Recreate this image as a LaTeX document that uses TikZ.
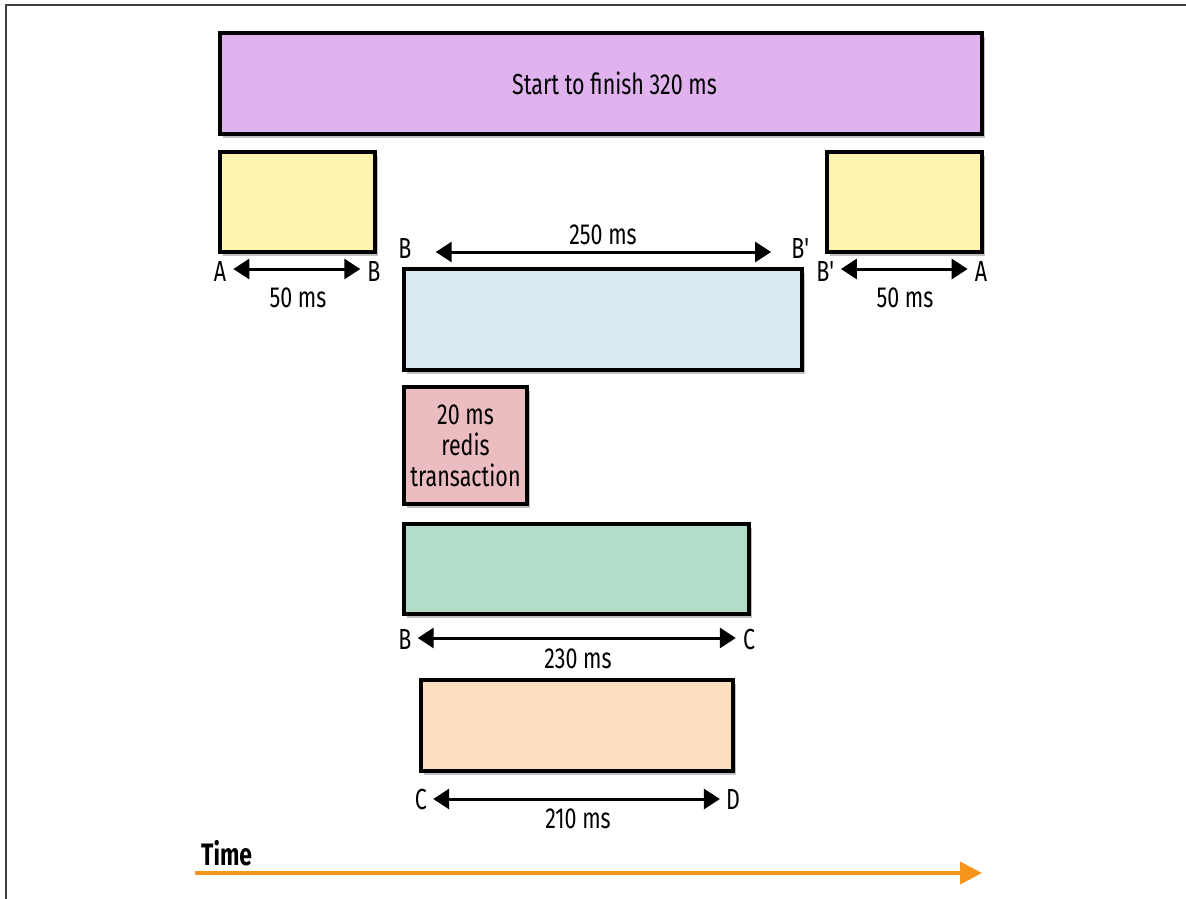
\documentclass[tikz,border=0pt]{standalone}
\usepackage{fontspec}
\setmainfont{Fira Sans}[FakeStretch=0.74]
\usetikzlibrary{arrows.meta,shadows}
\definecolor{cpurple}{HTML}{E0B2EE}
\definecolor{cyellow}{HTML}{FEF4B0}
\definecolor{cblue}{HTML}{DAE8F2}
\definecolor{cpink}{HTML}{EBBDC0}
\definecolor{cgreen}{HTML}{B2DDC8}
\definecolor{cpeach}{HTML}{FCDFBF}
\definecolor{corange}{HTML}{F7941D}
\begin{document}
\begin{tikzpicture}[x=1pt,y=-1pt,
  box/.style={draw=black, line width=3.5pt, inner sep=0pt, font=\fontsize{29}{33}\selectfont,
    drop shadow={shadow xshift=3pt, shadow yshift=-4pt, opacity=0.35, fill=black!70}},
  lbl/.style={inner sep=0pt, font=\fontsize{29}{33}\selectfont},
  dim/.style={line width=3pt, {Triangle[length=16pt,width=20pt]}-{Triangle[length=16pt,width=20pt]}},
  timearrow/.style={corange, line width=4pt, -{Triangle[length=22pt,width=22pt]}}
]
\useasboundingbox (0,0) rectangle (1186,899);
\draw[black!75, line width=2pt] (6,899) -- (6,5) -- (1186,5);

% boxes
\node[box, fill=cpurple, minimum width=762pt, minimum height=101pt] (total) at (601,83.5) {};
\node[lbl] (totaltext) at (614.5,83) {Start to finish 320 ms};
\node[box, fill=cyellow, minimum width=155pt, minimum height=100pt] (yl) at (297.5,202) {};
\node[box, fill=cyellow, minimum width=155pt, minimum height=100pt] (yr) at (904.5,202) {};
\node[box, fill=cblue, minimum width=398pt, minimum height=101pt] (blue) at (603,319.5) {};
\node[box, fill=cpink, minimum width=123pt, minimum height=117pt, align=center,
  font=\fontsize{29}{31}\selectfont] (redis) at (465.5,445.5) {20 ms\\redis\\transaction};
\node[box, fill=cgreen, minimum width=345pt, minimum height=90pt] (green) at (576.5,569) {};
\node[box, fill=cpeach, minimum width=312pt, minimum height=91pt] (peach) at (577,725.5) {};

% left 50 ms
\node[lbl] (a1) at (220,272) {A};
\node[lbl] (b1) at (374,272) {B};
\draw[dim] ([xshift=7pt]a1.east |- 0,269) -- ([xshift=-7pt]b1.west |- 0,269);
\node[lbl] (t1) at (298,298) {50 ms};

% right 50 ms
\node[lbl] (b2) at (826,272) {B\textquotesingle};
\node[lbl] (a2) at (981,272) {A};
\draw[dim] ([xshift=5pt]b2.east |- 0,269) -- ([xshift=-7pt]a2.west |- 0,269);
\node[lbl] (t2) at (905,298) {50 ms};

% 250 ms
\node[lbl] (b3) at (405,249) {B};
\node[lbl] (b4) at (801,249) {B\textquotesingle};
\draw[dim] ([xshift=24pt]b3.east |- 0,252) -- ([xshift=-20pt]b4.west |- 0,252);
\node[lbl] (t3) at (603,235) {250 ms};

% 230 ms
\node[lbl] (b5) at (405,640) {B};
\node[lbl] (c1) at (749,640) {C};
\draw[dim] ([xshift=6pt]b5.east |- 0,638) -- ([xshift=-7pt]c1.west |- 0,638);
\node[lbl] (t4) at (578,659) {230 ms};

% 210 ms
\node[lbl] (c2) at (421,800) {C};
\node[lbl] (d1) at (733,800) {D};
\draw[dim] ([xshift=6pt]c2.east |- 0,799) -- ([xshift=-6pt]d1.west |- 0,799);
\node[lbl] (t5) at (578,819) {210 ms};

% time axis
\node[lbl, anchor=west, font=\fontsize{31}{35}\selectfont\bfseries] (time) at (201,853) {Time};
\coordinate (ts) at (195,873);
\coordinate (te) at (982,873);
\draw[timearrow] (ts) -- (te);
\end{tikzpicture}
\end{document}
